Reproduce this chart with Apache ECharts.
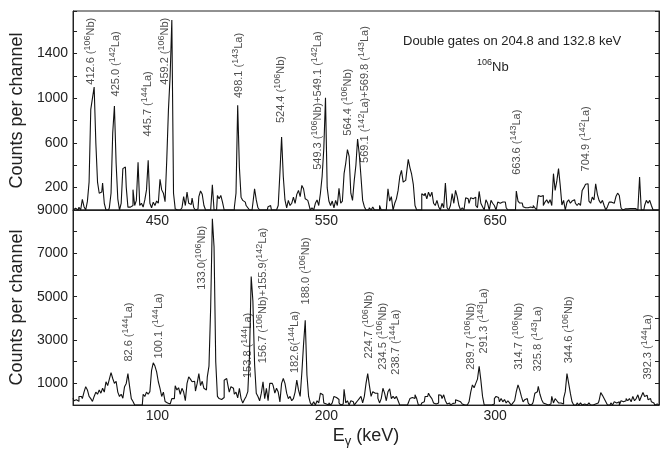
<!DOCTYPE html>
<html>
<head>
<meta charset="utf-8">
<script src="https://cdn.jsdelivr.net/npm/echarts@6.0.0/dist/echarts.min.js"></script>
<style>
html, body { margin: 0; padding: 0; background: #fff; }
#chart { width: 662px; height: 449px; }
</style>
</head>
<body>
<div id="chart"></div>
<script>
const FONT = '"Liberation Sans", Arial, sans-serif';
const INK = '#222';

// upper spectrum, 1 keV per channel starting at 400 keV
const topStart = 400;
const topCounts = [
  0, 15, 0, 0, 25, 0, 95, 30, 0, 77,
  250, 900, 1000, 1100, 600, 250, 150, 160, 240, 60,
  0, 0, 20, 150, 690, 930, 420, 100, 0, 60,
  370, 384, 205, 26, 26, 40, 182, 40, 86, 426,
  40, 60, 26, 90, 180, 444, 60, 20, 70, 40,
  80, 60, 274, 180, 150, 74, 450, 900, 1200, 1700,
  150, 10, 0, 0, 0, 20, 120, 40, 160, 60,
  50, 107, 20, 0, 10, 120, 170, 140, 40, 0,
  0, 0, 0, 226, 0, 0, 130, 100, 130, 70,
  0, 0, 0, 0, 0, 0, 20, 150, 937, 384,
  115, 86, 70, 40, 20, 0, 0, 60, 190, 90,
  20, 0, 0, 0, 0, 0, 30, 40, 0, 0,
  0, 10, 40, 330, 653, 300, 90, 20, 86, 40,
  60, 115, 60, 140, 175, 120, 220, 190, 100, 86,
  60, 0, 20, 0, 60, 90, 40, 150, 300, 550,
  1005, 200, 80, 40, 80, 20, 86, 40, 193, 60,
  80, 325, 420, 540, 480, 150, 86, 260, 400, 635,
  500, 300, 86, 30, 0, 0, 20, 0, 26, 0,
  0, 0, 40, 0, 0, 0, 0, 190, 80, 120,
  0, 60, 100, 175, 300, 355, 250, 265, 330, 453,
  380, 320, 230, 40, 0, 0, 0, 146, 130, 150,
  100, 160, 120, 160, 60, 40, 86, 30, 0, 60,
  20, 241, 20, 0, 40, 146, 60, 175, 120, 40,
  0, 20, 0, 110, 100, 60, 110, 100, 115, 40,
  20, 166, 60, 30, 0, 92, 60, 0, 86, 60,
  40, 0, 71, 60, 71, 60, 71, 20, 0, 0,
  0, 0, 0, 169, 80, 62, 62, 30, 20, 20,
  26, 26, 20, 40, 20, 0, 130, 120, 130, 40,
  71, 92, 60, 92, 40, 325, 175, 260, 370, 220,
  45, 86, 0, 70, 92, 60, 80, 92, 60, 40,
  60, 40, 175, 200, 230, 235, 80, 60, 115, 90,
  235, 140, 86, 60, 86, 40, 0, 30, 70, 70,
  60, 70, 120, 151, 130, 20, 0, 10, 10, 10,
  14, 14, 10, 14, 0, 0, 295, 0, 0, 40,
  86, 60, 86, 40, 0, 0, 0, 0
];

// lower spectrum, 1 keV per channel starting at 50 keV
const bottomStart = 50;
const bottomCounts = [
  320, 200, 250, 170, 400, 400, 300, 600, 850, 700,
  400, 300, 170, 400, 600, 500, 700, 550, 775, 600,
  1077, 900, 1200, 1500, 1227, 1000, 1100, 600, 400, 500,
  320, 850, 1000, 1455, 850, 300, 170, 0, 0, 0,
  0, 0, 500, 400, 600, 500, 620, 1600, 1950, 1800,
  1530, 1077, 775, 400, 600, 170, 100, 50, 100, 300,
  300, 895, 700, 800, 500, 775, 600, 200, 1000, 1300,
  1200, 1077, 1100, 650, 1000, 1455, 900, 1100, 775, 700,
  1300, 1800, 4500, 8600, 7300, 2000, 400, 300, 260, 350,
  1150, 1227, 1000, 600, 850, 780, 500, 600, 330, 775,
  300, 100, 260, 400, 620, 2300, 5936, 4800, 1900, 550,
  400, 200, 550, 1077, 300, 775, 200, 1000, 1000, 900,
  550, 775, 600, 150, 1000, 1227, 1000, 550, 300, 400,
  200, 300, 600, 1155, 700, 400, 1500, 2800, 3914, 1400,
  400, 100, 0, 150, 0, 200, 100, 550, 475, 100,
  50, 0, 100, 0, 100, 400, 350, 260, 100, 0,
  50, 730, 100, 200, 0, 200, 150, 0, 100, 200,
  300, 400, 100, 400, 1000, 1455, 900, 400, 620, 550,
  550, 320, 100, 300, 775, 550, 200, 620, 750, 300,
  400, 300, 400, 200, 0, 0, 0, 50, 0, 100,
  300, 350, 300, 475, 300, 0, 0, 100, 150, 400,
  400, 550, 400, 300, 100, 50, 100, 475, 450, 300,
  475, 200, 50, 100, 0, 80, 100, 250, 200, 150,
  100, 50, 0, 0, 0, 150, 600, 930, 800, 1000,
  1200, 1790, 1150, 400, 0, 0, 0, 0, 0, 50,
  300, 400, 350, 150, 300, 150, 260, 100, 200, 100,
  0, 100, 200, 620, 930, 700, 400, 150, 250, 300,
  100, 0, 50, 150, 550, 620, 870, 500, 250, 100,
  50, 0, 0, 50, 400, 100, 300, 200, 100, 100,
  50, 300, 620, 1455, 1000, 550, 150, 0, 0, 100,
  0, 100, 0, 50, 0, 0, 100, 0, 0, 50,
  50, 100, 200, 580, 450, 300, 150, 0, 0, 100,
  0, 150, 100, 150, 0, 200, 150, 200, 300, 200,
  300, 150, 400, 200, 300, 475, 200, 400, 580, 400,
  450, 250, 300, 150, 100, 0, 50, 0
];

// peak labels: energy where the label stands, count where it starts, text
const topPeakE = [411.2, 425.8, 444.6, 455.0, 498.4, 523.6, 545.3, 563.0, 573.2, 663.0, 704.0];
const topPeakY = [1116, 1011, 653, 1116, 997, 773, 355, 660, 417, 310, 340];
const topPeakText = [
  '412.6 ({s|106}Nb)', '425.0 ({s|142}La)', '445.7 ({s|144}La)', '459.2 ({s|106}Nb)',
  '498.1 ({s|143}La)', '524.4 ({s|106}Nb)', '549.3 ({s|106}Nb)+549.1 ({s|142}La)',
  '564.4 ({s|106}Nb)', '569.1 ({s|142}La)+569.8 ({s|143}La)', '663.6 ({s|143}La)', '704.9 ({s|142}La)'
];

const bottomPeakE = [83.2, 101.4, 126.9, 153.9, 162.7, 181.5, 188.5, 225.5, 234.0, 241.4, 286.0, 293.9, 314.2, 325.9, 344.1, 390.5];
const bottomPeakY = [1983, 2132, 5300, 1227, 1906, 1453, 4622, 2132, 1607, 1380, 1607, 2360, 1607, 1530, 1906, 1154];
const bottomPeakText = [
  '82.6 ({s|144}La)', '100.1 ({s|144}La)', '133.0({s|106}Nb)', '153.8 ({s|144}La)',
  '156.7 ({s|106}Nb)+155.9({s|142}La)', '182.6({s|144}La)', '188.0 ({s|106}Nb)',
  '224.7 ({s|106}Nb)', '234.5 ({s|106}Nb)', '238.7 ({s|144}La)', '289.7 ({s|106}Nb)',
  '291.3 ({s|143}La)', '314.7 ({s|106}Nb)', '325.8 ({s|143}La)', '344.6 ({s|106}Nb)', '392.3 ({s|144}La)'
];

const topXLabels = [450, 550, 650];
const bottomXLabels = [100, 200, 300];
const topYLabels = [200, 600, 1000, 1400];
const bottomYLabels = [1000, 3000, 5000, 7000, 9000];

const chart = echarts.init(document.getElementById('chart'));

const txt = { color: INK, fontFamily: FONT };

const xAxisOf = (gridIndex, min, max, shown) => ({
  type: 'value', gridIndex, min, max, interval: 50,
  axisLine: { lineStyle: { color: INK } },
  axisTick: { show: false },
  splitLine: { show: false },
  axisLabel: {
    ...txt, fontSize: 14, margin: 4, interval: 0,
    showMinLabel: true, showMaxLabel: true,
    formatter: v => shown.includes(v) ? String(v) : ''
  }
});

const yAxisOf = (gridIndex, max, interval, shown, right) => ({
  type: 'value', gridIndex, min: 0, max, interval,
  position: right ? 'right' : 'left',
  axisLine: { show: true, lineStyle: { color: INK } },
  axisTick: { show: true, inside: true, length: 4, lineStyle: { color: INK } },
  splitLine: { show: false },
  axisLabel: right ? { show: false } : {
    ...txt, fontSize: 14, margin: 5,
    showMinLabel: true, showMaxLabel: true,
    formatter: v => shown.includes(v) ? String(v) : ''
  },
  name: right ? '' : 'Counts per channel',
  nameLocation: 'middle',
  nameGap: 33,
  nameTextStyle: { ...txt, fontSize: 18 }
});

const spectrum = (xi, yi, start, counts) => ({
  type: 'line', xAxisIndex: xi, yAxisIndex: yi,
  step: 'middle', showSymbol: false, silent: true,
  lineStyle: { color: '#111', width: 1.1 },
  data: counts.map((c, i) => [start + i, c])
});

const peakLabels = (xi, yi, es, ys, texts) => ({
  type: 'scatter', xAxisIndex: xi, yAxisIndex: yi, silent: true,
  symbolSize: 1, itemStyle: { color: 'transparent' },
  data: es.map((e, i) => [e, ys[i]]),
  label: {
    show: true, position: [0, 0], rotate: 90,
    align: 'left', verticalAlign: 'middle',
    ...txt, fontSize: 11, lineHeight: 16,
    formatter: p => texts[p.dataIndex],
    rich: { s: { ...txt, fontSize: 9, lineHeight: 10, verticalAlign: 'top' } }
  }
});

chart.setOption({
  animation: false,
  grid: [
    { left: 70, top: 11, width: 591, height: 199, show: true, borderColor: INK, borderWidth: 1 },
    { left: 70, top: 210, width: 591, height: 199, show: true, borderColor: INK, borderWidth: 1 }
  ],
  xAxis: [
    xAxisOf(0, 400, 747, topXLabels),
    {
      ...xAxisOf(1, 50, 397, bottomXLabels),
      name: '{a|E}{g|γ}{a| (keV)}',
      nameLocation: 'middle',
      nameGap: 15,
      nameTextStyle: {
        ...txt, fontSize: 18, lineHeight: 24,
        rich: {
          a: { ...txt, fontSize: 18, lineHeight: 24 },
          g: { ...txt, fontSize: 13, lineHeight: 13, verticalAlign: 'bottom' }
        }
      }
    }
  ],
  yAxis: [
    yAxisOf(0, 1780, 200, topYLabels, false),
    yAxisOf(0, 1780, 200, topYLabels, true),
    yAxisOf(1, 9000, 1000, bottomYLabels, false),
    yAxisOf(1, 9000, 1000, bottomYLabels, true)
  ],
  series: [
    spectrum(0, 0, topStart, topCounts),
    spectrum(1, 2, bottomStart, bottomCounts),
    peakLabels(0, 0, topPeakE, topPeakY, topPeakText),
    peakLabels(1, 2, bottomPeakE, bottomPeakY, bottomPeakText)
  ],
  graphic: [
    {
      type: 'text', left: 403, top: 35, silent: true,
      style: { text: 'Double gates on 204.8 and 132.8 keV', fontSize: 13, fontFamily: FONT, fill: INK }
    },
    {
      type: 'text', left: 477, top: 58, silent: true,
      style: {
        text: '{s|106}{n|Nb}', fill: INK, fontFamily: FONT, fontSize: 13, lineHeight: 18,
        rich: {
          s: { fontSize: 9, lineHeight: 10, verticalAlign: 'top', fontFamily: FONT, fill: INK },
          n: { fontSize: 13, lineHeight: 18, fontFamily: FONT, fill: INK }
        }
      }
    }
  ]
});
</script>
</body>
</html>
